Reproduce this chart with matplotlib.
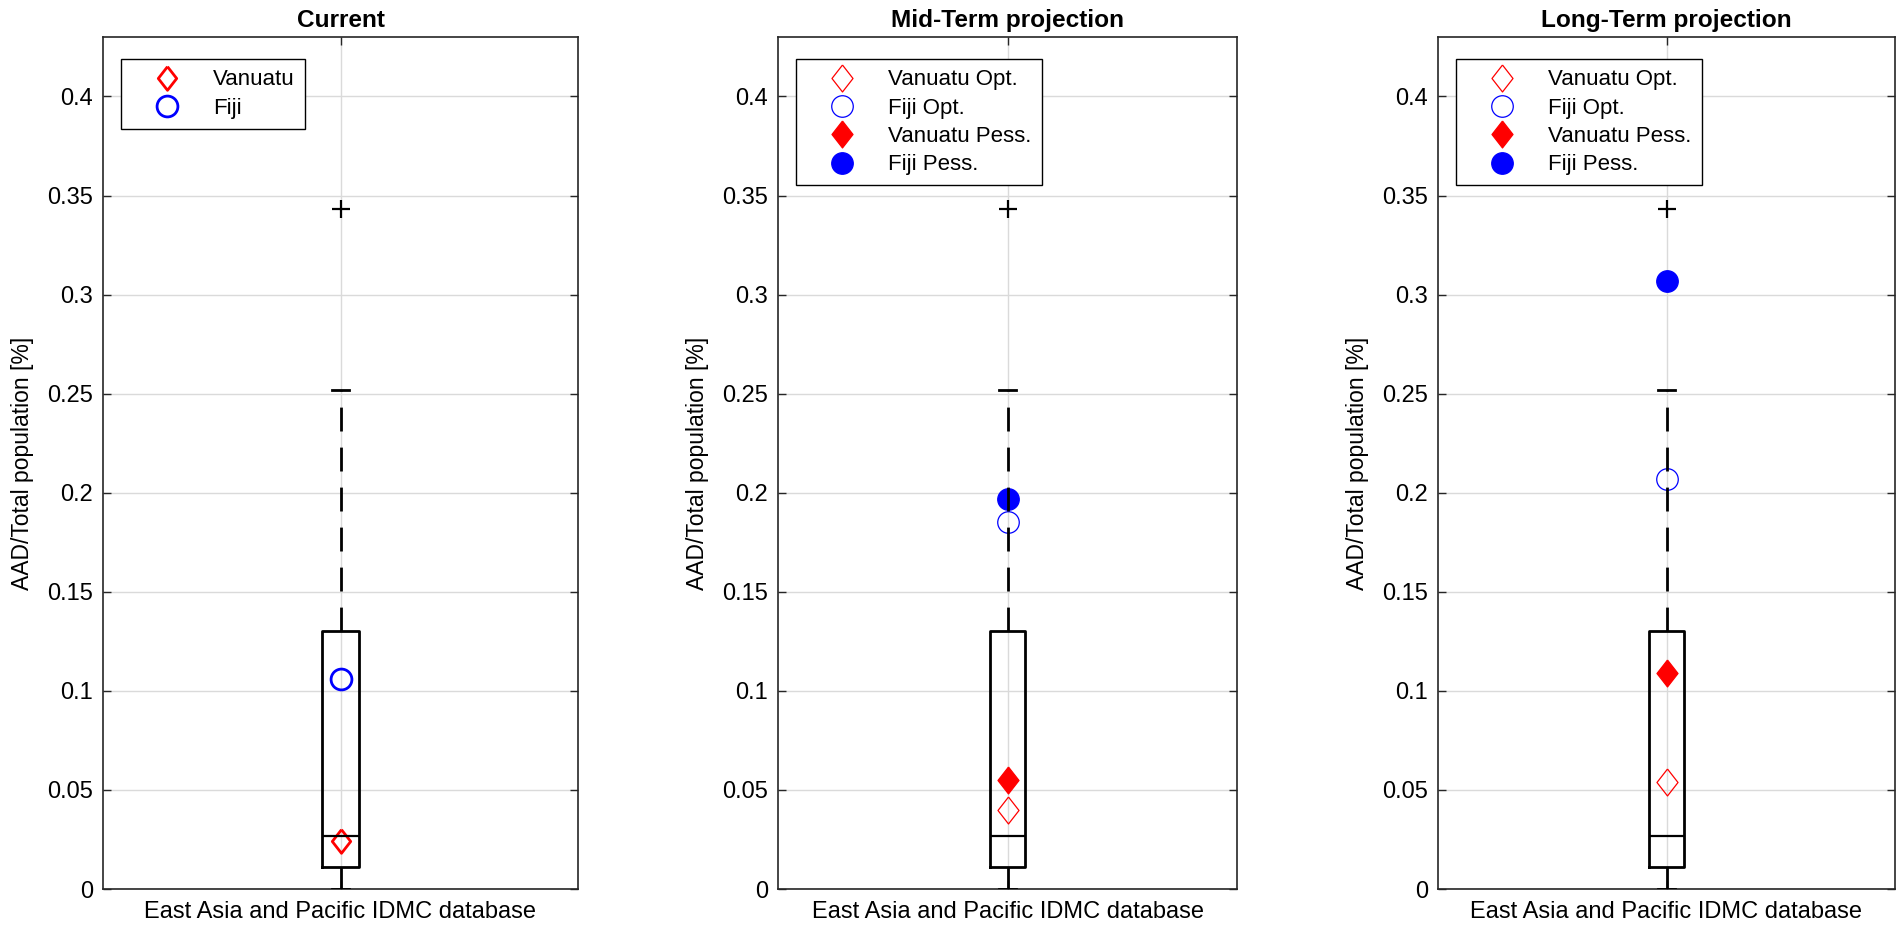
import matplotlib.pyplot as plt
from matplotlib.ticker import MultipleLocator, FormatStrFormatter

plt.rcParams['font.family'] = ['Liberation Sans', 'DejaVu Sans']

# box statistics of the IDMC database (same in every panel)
group_label = "East Asia and Pacific IDMC database"
box_q1 = 0.011
box_median = 0.027
box_q3 = 0.130
whisker_low = 0.0
whisker_high = 0.252
outliers = [0.343]

titles = ["Current", "Mid-Term projection", "Long-Term projection"]
vanuatu_opt = [0.024, 0.040, 0.054]
fiji_opt = [0.106, 0.185, 0.207]
vanuatu_pess = [None, 0.055, 0.109]
fiji_pess = [None, 0.197, 0.307]

W, H = 1902, 931
fig = plt.figure(figsize=(W / 100, H / 100), dpi=100)

# axes edges in pixels
axes_px = [(103, 578), (778, 1237), (1438, 1895)]
top_px, bot_px = 37, 889

diamond = [(0, 1), (0.78, 0), (0, -1), (-0.78, 0), (0, 1)]
fs = 17

for i, (x0, x1) in enumerate(axes_px):
    ax = fig.add_axes([x0 / W, 1 - bot_px / H, (x1 - x0) / W, (bot_px - top_px) / H])

    stats = [dict(med=box_median, q1=box_q1, q3=box_q3, whislo=whisker_low,
                  whishi=whisker_high, fliers=outliers, label=group_label)]
    ax.bxp(stats, positions=[1], widths=0.077, capwidths=0.036,
           boxprops=dict(color='k', lw=2.0),
           whiskerprops=dict(color='k', lw=2.0, linestyle=(0, (8.6, 5.8))),
           capprops=dict(color='k', lw=2.0),
           medianprops=dict(color='k', lw=1.6),
           flierprops=dict(marker='+', markeredgecolor='k', markersize=13, mew=1.6),
           zorder=3)

    if i == 0:
        ax.plot([1], [vanuatu_opt[i]], ls='none', marker=diamond, ms=17, mfc='none',
                mec='red', mew=2.0, label='Vanuatu', zorder=2.5)
        ax.plot([1], [fiji_opt[i]], ls='none', marker='o', ms=15, mfc='none',
                mec='blue', mew=2.0, label='Fiji', zorder=2.5)
    else:
        ax.plot([1], [vanuatu_opt[i]], ls='none', marker=diamond, ms=19.4, mfc='none',
                mec='red', mew=0.9, label='Vanuatu Opt.', zorder=2.5)
        ax.plot([1], [fiji_opt[i]], ls='none', marker='o', ms=15.5, mfc='none',
                mec='blue', mew=0.9, label='Fiji Opt.', zorder=2.5)
        ax.plot([1], [vanuatu_pess[i]], ls='none', marker=diamond, ms=19.4, mfc='red',
                mec='red', mew=0.9, label='Vanuatu Pess.', zorder=2.5)
        ax.plot([1], [fiji_pess[i]], ls='none', marker='o', ms=15.5, mfc='blue',
                mec='blue', mew=0.9, label='Fiji Pess.', zorder=2.5)

    ax.set_xlim(0.5, 1.5)
    ax.set_ylim(0, 0.43)
    ax.yaxis.set_major_locator(MultipleLocator(0.05))
    ax.yaxis.set_major_formatter(FormatStrFormatter('%g'))
    ax.set_axisbelow(True)
    ax.grid(True, color='#dadada', lw=1.0)
    ax.tick_params(direction='in', top=True, right=True, length=6, width=1.0,
                   labelsize=fs, color='#262626')
    ax.tick_params(axis='y', pad=7)
    ax.tick_params(axis='x', pad=9)
    for sp in ax.spines.values():
        sp.set_color('#262626')
        sp.set_linewidth(1.2)
    ax.set_ylabel('AAD/Total population [%]', fontsize=16.5, labelpad=10)
    ax.set_title(titles[i], fontsize=17.6, fontweight='bold', pad=7)

    wpx = x1 - x0
    ax.legend(loc='upper left', bbox_to_anchor=(17.5 / wpx, 1 - 22.3 / (bot_px - top_px)),
              borderaxespad=0, fontsize=16, numpoints=1, fancybox=False,
              edgecolor='k', framealpha=1, borderpad=0.45, handlelength=3.26,
              handletextpad=0.46, labelspacing=0.33).get_frame().set_linewidth(1.0)

fig.savefig('out.png', dpi=100)
